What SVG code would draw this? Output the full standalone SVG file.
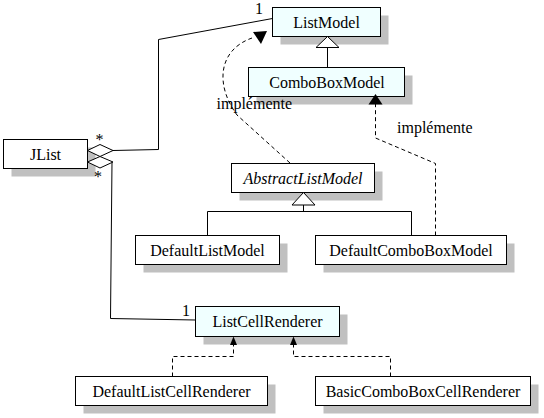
<svg xmlns="http://www.w3.org/2000/svg" width="544" height="418" viewBox="0 0 544 418" font-family="'Liberation Serif', 'DejaVu Serif', serif">
<style>
.shadow{fill:#c0c0c0;stroke:none}
.box{fill:#ffffff;stroke:#000;stroke-width:1}
.iface{fill:#f0ffff;stroke:#000;stroke-width:1}
text{font-family:'Liberation Serif','DejaVu Serif',serif;font-size:16px;fill:#000}
.lbl{text-anchor:middle}
.line{fill:none;stroke:#000;stroke-width:1}
.dash{fill:none;stroke:#000;stroke-width:1;stroke-dasharray:4,3}
.head{fill:#000;stroke:none}
.hollow{fill:#fff;stroke:#000;stroke-width:1}
</style>
<rect width="544" height="418" fill="#fff"/>
<g id="ListModel">
<rect class="shadow" x="280.5" y="15.5" width="108" height="29"/>
<rect class="iface" x="272.5" y="7.5" width="108" height="29"/>
<text class="lbl" x="326.5" y="27.5">ListModel</text>
</g>
<g id="ComboBoxModel">
<rect class="shadow" x="256.5" y="75.5" width="156" height="29"/>
<rect class="iface" x="248.5" y="67.5" width="156" height="29"/>
<text class="lbl" x="327" y="87.5">ComboBoxModel</text>
</g>
<g id="JList">
<rect class="shadow" x="11.5" y="147.5" width="84" height="29"/>
<rect class="box" x="3.5" y="139.5" width="84" height="29"/>
<text class="lbl" x="45.5" y="159.5">JList</text>
</g>
<g id="AbstractListModel">
<rect class="shadow" x="239.5" y="171.5" width="143" height="29"/>
<rect class="box" x="231.5" y="163.5" width="143" height="29"/>
<text class="lbl" x="303" y="183.5" font-style="italic">AbstractListModel</text>
</g>
<g id="DefaultListModel">
<rect class="shadow" x="143.5" y="243.5" width="144" height="29"/>
<rect class="box" x="135.5" y="235.5" width="144" height="29"/>
<text class="lbl" x="207.5" y="255.5">DefaultListModel</text>
</g>
<g id="DefaultComboBoxModel">
<rect class="shadow" x="323.5" y="243.5" width="191" height="29"/>
<rect class="box" x="315.5" y="235.5" width="191" height="29"/>
<text class="lbl" x="411" y="255.5">DefaultComboBoxModel</text>
</g>
<g id="ListCellRenderer">
<rect class="shadow" x="203.5" y="314.5" width="144" height="30"/>
<rect class="iface" x="195.5" y="306.5" width="144" height="30"/>
<text class="lbl" x="267.5" y="327">ListCellRenderer</text>
</g>
<g id="DefaultListCellRenderer">
<rect class="shadow" x="83.5" y="384.5" width="192" height="29"/>
<rect class="box" x="75.5" y="376.5" width="192" height="29"/>
<text class="lbl" x="171.5" y="396.5">DefaultListCellRenderer</text>
</g>
<g id="BasicComboBoxCellRenderer">
<rect class="shadow" x="323.5" y="384.5" width="215" height="29"/>
<rect class="box" x="315.5" y="376.5" width="215" height="29"/>
<text class="lbl" x="423" y="396.5">BasicComboBoxCellRenderer</text>
</g>
<g id="connectors">
<polyline class="line" points="113,150.5 158.5,149.5 158.5,39.5 272.5,18.5"/>
<polygon class="hollow" points="87.5,150.5 100,144.5 113,150.5 100,156.5"/>
<text x="255" y="14">1</text>
<text class="lbl" x="99.5" y="145">*</text>
<polyline class="line" points="112,162 110.5,318.5 195.5,320"/>
<polygon class="hollow" points="87.5,162 100,156.5 113,162 100,168"/>
<text class="lbl" x="98" y="181.5">*</text>
<text class="lbl" x="186" y="316">1</text>
<line class="line" x1="327.5" y1="47.5" x2="327.5" y2="67.5"/>
<polygon class="hollow" points="327.5,36.5 339,47.5 316,47.5"/>
<polyline class="line" points="207.5,235.5 207.5,211.5 411.5,211.5 411.5,235.5"/>
<line class="line" x1="303.5" y1="205" x2="303.5" y2="211.5"/>
<polygon class="hollow" points="303.5,192.5 315,205 292,205"/>
<path class="dash" d="M290,163 L237,115 C215,85 218,50 252,38"/>
<polygon class="head" points="253,32 267,31 261,44"/>
<text x="216.5" y="109">implémente</text>
<polyline class="dash" points="435.5,235.5 435.5,163.5 375.5,138 375.5,104"/>
<polygon class="head" points="375.5,94 382.5,104.5 368.5,104.5"/>
<text x="397" y="133">implémente</text>
<polyline class="dash" points="172.5,376.5 172.5,356.5 233.5,356.5 233.5,345"/>
<polygon class="head" points="233.5,336.5 237,345 230,345"/>
<polyline class="dash" points="390.5,376.5 390.5,356.5 293.5,356.5 293.5,345"/>
<polygon class="head" points="293.5,336.5 297,345 290,345"/>
</g>
</svg>
